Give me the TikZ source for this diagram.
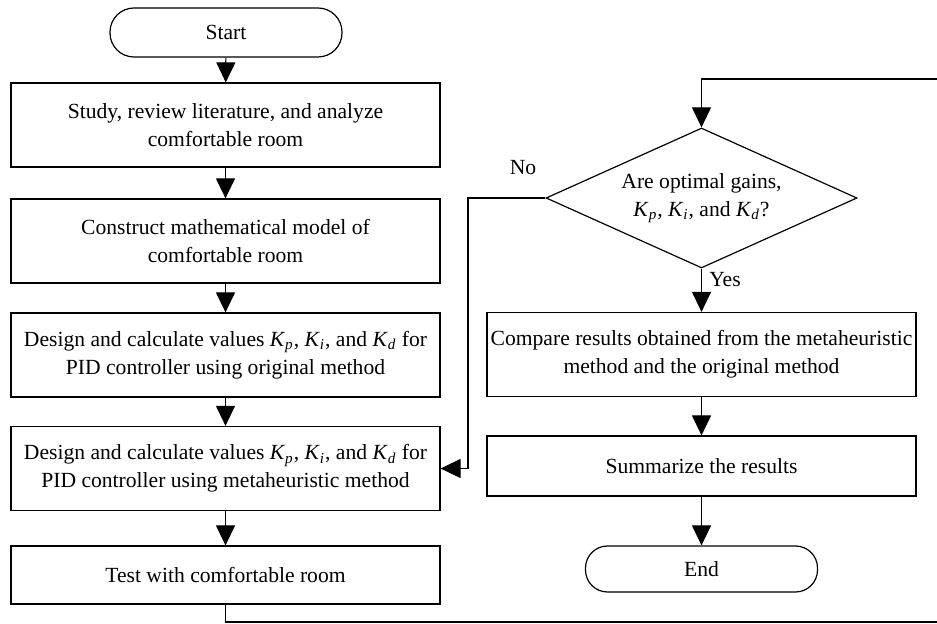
\documentclass[tikz,border=0pt]{standalone}
\usepackage{amsmath}
\usepackage{fontspec}
\setmainfont{Liberation Serif}
\usepackage{tikz}
\usetikzlibrary{arrows.meta}
\usetikzlibrary{shapes.geometric}
\tikzset{proc/.style = {draw, rectangle, minimum width = 214.5pt, minimum height = 42pt, align = center, inner sep = 0}}
\tikzset{term/.style = {draw, rectangle, rounded corners = 12pt, minimum width = 116pt, minimum height = 24.5pt, inner sep = 0}}
\tikzset{check/.style = {draw, diamond, aspect = 2.2, minimum width = 155.5pt, minimum height = 70pt, inner sep = 0, align = center}}
\tikzset{flow/.style = {-{Triangle[width = 9.5pt, length = 10pt]}}}
\newcommand{\gain}[1]{\textit{K}$_{\textit{#1}}$}

\begin{document}
\begin{tikzpicture}[x = 0.5pt, y = -0.5pt, line width = 0.6pt, font = \fontsize{10.8}{14}\selectfont]
      \useasboundingbox (0, 0) rectangle (937, 624);
      \node [term] (start) at (226, 32.5) {Start};
      \node [proc] (study) at (225.5, 125) {Study, review literature, and analyze\\comfortable room};
      \node [proc] (model) at (225.5, 241) {Construct mathematical model of\\comfortable room};
      \node [proc] (orig) at (225.5, 355) {Design and calculate values \gain{p}, \gain{i}, and \gain{d} for\\PID controller using original method};
      \node [proc] (meta) at (225.5, 468.5) {Design and calculate values \gain{p}, \gain{i}, and \gain{d} for\\PID controller using metaheuristic method};
      \node [proc, minimum height = 29pt] (test) at (225.5, 575) {Test with comfortable room};
      \node [check] (optimal) at (701.5, 198) {Are optimal gains,\\\gain{p}, \gain{i}, and \gain{d}?};
      \node [proc] (compare) at (701.5, 354.5) {Compare results obtained from the metaheuristic\\method and the original method};
      \node [proc, minimum height = 30pt] (summ) at (701.5, 466) {Summarize the results};
      \node [term, minimum height = 23pt, rounded corners = 11pt] (end) at (701.5, 569) {End};
      \node (nolabel) at (523, 168) {No};
      \node (yeslabel) at (725, 280) {Yes};
      \coordinate (noturn) at (468, 198);
      \coordinate (loopbl) at (225.5, 622);
      \coordinate (loopbr) at (950, 622);
      \coordinate (looptr) at (950, 79);
      \draw [flow] (start) -- (study);
      \draw [flow] (study) -- (model);
      \draw [flow] (model) -- (orig);
      \draw [flow] (orig) -- (meta);
      \draw [flow] (meta) -- (test);
      \draw [flow] (test) -- (loopbl) -- (loopbr) -- (looptr) -| (optimal);
      \draw [flow] (optimal) -- (compare);
      \draw [flow] (compare) -- (summ);
      \draw [flow] (summ) -- (end);
      \draw [flow] (optimal.west) -- (noturn) |- (meta);
    \end{tikzpicture}
\end{document}
